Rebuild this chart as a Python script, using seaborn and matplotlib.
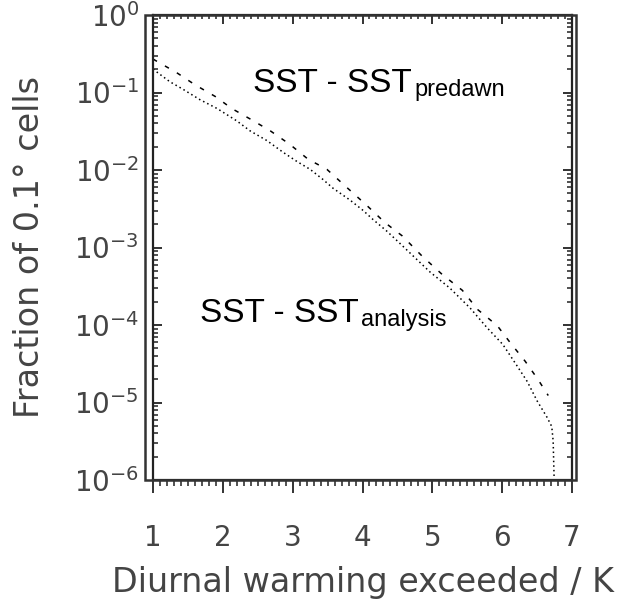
import matplotlib
matplotlib.use("Agg")
import matplotlib.pyplot as plt
import matplotlib.ticker as mticker
from matplotlib.patches import Rectangle
import seaborn as sns
import pandas as pd

# ---- data ----
warming_analysis = [1.0, 1.24, 1.43, 1.67, 1.92, 2.20, 2.39, 2.63, 2.86, 3.06, 3.25,
                    3.43, 3.58, 3.82, 4.01, 4.15, 4.35, 4.54, 4.68, 4.97, 5.25, 5.54,
                    5.78, 6.01, 6.21, 6.36, 6.50, 6.64, 6.71, 6.73, 6.76]
frac_analysis = [0.20, 0.138, 0.110, 0.081, 0.062, 0.043, 0.032, 0.024, 0.017, 0.0129,
                 0.0102, 0.0076, 0.0058, 0.0041, 0.0030, 0.0023, 0.00162, 0.00112,
                 0.00085, 0.00048, 0.00030, 0.000166, 9.3e-5, 5.6e-5, 3.0e-5, 1.86e-5,
                 1.05e-5, 6.5e-6, 4.9e-6, 3.2e-6, 3e-7]

warming_predawn = [1.0, 1.34, 1.60, 1.89, 2.13, 2.42, 2.68, 2.96, 3.22, 3.49, 3.78,
                   4.06, 4.32, 4.57, 4.85, 5.14, 5.43, 5.65, 5.93, 6.11, 6.33, 6.51,
                   6.66]
frac_predawn = [0.27, 0.18, 0.126, 0.089, 0.062, 0.044, 0.032, 0.0214, 0.0138, 0.0102,
                0.0059, 0.0035, 0.0021, 0.00141, 0.00078, 0.00045, 0.00028, 0.000158,
                9.8e-5, 6.0e-5, 3.4e-5, 2.0e-5, 1.23e-5]

x_ticks = [1, 2, 3, 4, 5, 6, 7]
y_ticks = [1e0, 1e-1, 1e-2, 1e-3, 1e-4, 1e-5, 1e-6]

label_predawn = "SST - SST"
sub_predawn = "predawn"
label_analysis = "SST - SST"
sub_analysis = "analysis"
xlabel = "Diurnal warming exceeded / K"
ylabel = "Fraction of 0.1° cells"

df_a = pd.DataFrame({"x": warming_analysis, "y": frac_analysis})
df_p = pd.DataFrame({"x": warming_predawn, "y": frac_predawn})

sns.set_style("ticks")
plt.rcParams["font.family"] = ["DejaVu Sans"]

W, H = 626, 601
fig = plt.figure(figsize=(W / 100, H / 100), dpi=100)
L, R, T, B = 153, 572, 15, 480
ax = fig.add_axes([L / W, 1 - B / H, (R - L) / W, (B - T) / H])

sns.lineplot(data=df_a, x="x", y="y", ax=ax, color="black", linewidth=1.1,
             linestyle=(0, (1, 2)), estimator=None, sort=False)
sns.lineplot(data=df_p, x="x", y="y", ax=ax, color="black", linewidth=1.1,
             linestyle=(0, (3, 6)), estimator=None, sort=False)

ax.set_yscale("log")
ax.set_xlim(1, 7)
ax.set_ylim(1e-6, 1)

gray = "#444444"
ax.set_xticks(x_ticks)
ax.set_yticks(y_ticks)
ax.xaxis.set_minor_locator(mticker.MultipleLocator(0.1))
ax.yaxis.set_minor_locator(mticker.LogLocator(base=10, subs=range(2, 10), numticks=20))
ax.yaxis.set_minor_formatter(mticker.NullFormatter())

for s in ax.spines.values():
    s.set_linewidth(1.6)
    s.set_color("#222222")

ax.tick_params(axis="x", which="major", direction="out", length=9.5, width=1.3,
               pad=22, labelsize=20, labelcolor=gray, color="#222222")
ax.tick_params(axis="x", which="minor", direction="out", length=4.5, width=1.1,
               color="#222222")
ax.tick_params(axis="y", which="major", direction="in", length=6.5, width=1.3,
               left=True, right=True, pad=10, labelsize=20, labelcolor=gray,
               color="#222222")
ax.tick_params(axis="y", which="minor", direction="in", length=3.6, width=1.1,
               left=True, right=True, color="#222222")

top = ax.secondary_xaxis("top")
top.set_xticks(x_ticks)
top.xaxis.set_minor_locator(mticker.MultipleLocator(0.1))
top.tick_params(axis="x", which="major", direction="in", length=6.5, width=1.3,
                labeltop=False, color="#222222")
top.tick_params(axis="x", which="minor", direction="in", length=3.2, width=1.1,
                color="#222222")
top.spines["top"].set_visible(False)

ax.set_xlabel(xlabel, fontsize=24, color=gray, labelpad=10)
ax.set_ylabel(ylabel, fontsize=24, color=gray, labelpad=20)

# outer frame
fig.patches.append(Rectangle((145 / W, 1 - 480 / H), (576 - 145) / W, (480 - 15) / H,
                             transform=fig.transFigure, fill=False,
                             edgecolor="#333333", linewidth=1.8))

ann_font = dict(family="Liberation Sans", color="black")
t1 = ax.text(0.239, 0.834, label_predawn, transform=ax.transAxes, fontsize=24,
             va="baseline", ha="left", **ann_font)
ax.annotate(sub_predawn, xy=(1, 0), xycoords=t1, xytext=(2, 2),
            textcoords="offset points", fontsize=17, va="baseline", ha="left",
            **ann_font)
t2 = ax.text(0.112, 0.340, label_analysis, transform=ax.transAxes, fontsize=24,
             va="baseline", ha="left", **ann_font)
ax.annotate(sub_analysis, xy=(1, 0), xycoords=t2, xytext=(2, 2),
            textcoords="offset points", fontsize=17, va="baseline", ha="left",
            **ann_font)

fig.savefig("out.png", dpi=100)
